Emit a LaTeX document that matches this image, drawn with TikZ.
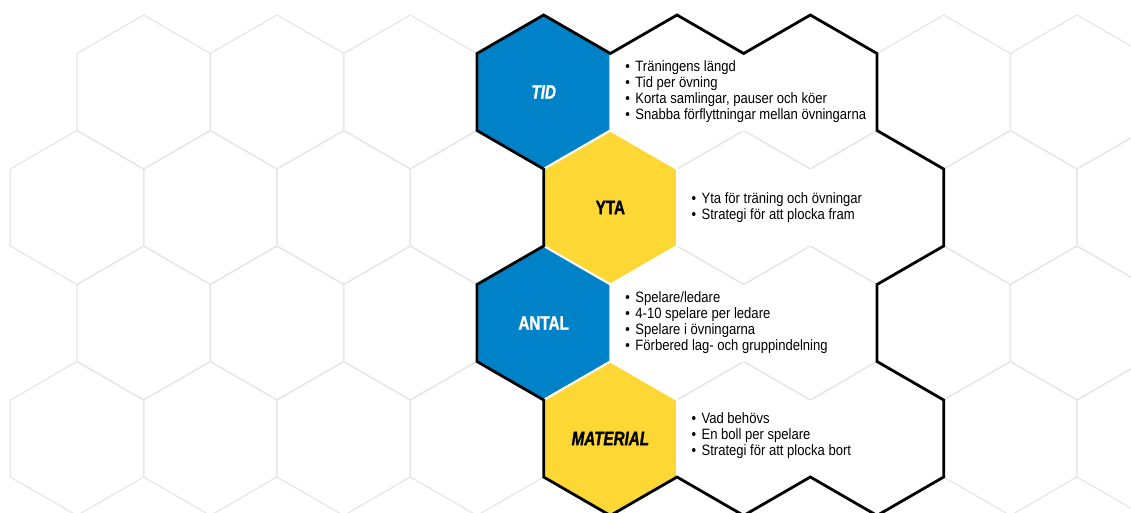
\documentclass[tikz,border=0pt]{standalone}
\usepackage{fontspec}
\setmainfont{Liberation Sans}[FakeStretch=0.87]
\newfontfamily\hexfont{Liberation Sans}[FakeStretch=0.78, FakeBold=1.2]
\usetikzlibrary{positioning}
\definecolor{hexblue}{HTML}{0082C8}
\definecolor{hexyellow}{HTML}{FDD835}
\definecolor{gridgray}{HTML}{E6E6E6}
\newcommand{\hexcell}[2]{(#1,#2-2) -- (#1+1,#2-1) -- (#1+1,#2+1) -- (#1,#2+2) -- (#1-1,#2+1) -- (#1-1,#2-1) -- cycle}
\newcommand{\itm}{\textbullet\hspace{5.5pt}}
\tikzset{gridline/.style = {draw=gridgray, line width=1.2pt, line join=round}}
\tikzset{bluehex/.style = {fill=hexblue, draw=white, line width=2pt}}
\tikzset{yellowhex/.style = {fill=hexyellow, draw=white, line width=2pt}}
\tikzset{outline/.style = {draw=black, line width=2.8pt, line join=miter}}
\tikzset{hexlabel/.style = {font=\hexfont\bfseries\fontsize{19.5}{20}\selectfont, inner sep=0}}
\tikzset{itemlist/.style = {font=\fontsize{15}{16}\selectfont, align=left, inner sep=0, anchor=west}}

\begin{document}
\begin{tikzpicture}[x=66.667pt, y=-38.5pt]
          \useasboundingbox (-10.333pt,15pt) rectangle (1120.667pt,-497pt);
          \clip (-10.333pt,15pt) rectangle (1120.667pt,-497pt);

          \foreach \r in {0,2} \foreach \c in {2,4,...,16} \draw[gridline] \hexcell{\c}{3*\r+2};
          \foreach \r in {1,3} \foreach \c in {1,3,...,17} \draw[gridline] \hexcell{\c}{3*\r+2};

          \fill[white] (9.05,1) rectangle (12.95,3);
          \fill[white] (10.05,4) rectangle (13.95,6);
          \fill[white] (9.05,7) rectangle (12.95,9);
          \fill[white] (10.05,10) rectangle (13.95,12);

          \draw[bluehex] \hexcell{8}{2};
          \draw[yellowhex] \hexcell{9}{5};
          \draw[bluehex] \hexcell{8}{8};
          \draw[yellowhex] \hexcell{9}{11};

          \draw[outline] (7,1) -- (8,0) -- (9,1) -- (10,0) -- (11,1) -- (12,0) -- (13,1) -- (13,3)
            -- (14,4) -- (14,6) -- (13,7) -- (13,9) -- (14,10) -- (14,12) -- (13,13) -- (12,12)
            -- (11,13) -- (10,12) -- (9,13) -- (8,12) -- (8,10) -- (7,9) -- (7,7) -- (8,6)
            -- (8,4) -- (7,3) -- cycle;

          \node[hexlabel, text=white] (tid) at (8,2) {\itshape TID};
          \node[hexlabel] (yta) at (9,5) {YTA};
          \node[hexlabel, text=white] (antal) at (8,8) {ANTAL};
          \node[hexlabel] (material) at (9,11) {\itshape MATERIAL};

          \node[itemlist, right=81.5pt of tid.center] (tidlist) {\itm Träningens längd\\ \itm Tid per övning\\
            \itm Korta samlingar, pauser och köer\\ \itm Snabba förflyttningar mellan övningarna};
          \node[itemlist, right=81pt of yta.center] (ytalist) {\itm Yta för träning och övningar\\
            \itm Strategi för att plocka fram};
          \node[itemlist, right=81.5pt of antal.center] (antallist) {\itm Spelare/ledare\\ \itm 4-10 spelare per ledare\\
            \itm Spelare i övningarna\\ \itm Förbered lag- och gruppindelning};
          \node[itemlist, right=81pt of material.center, yshift=3pt] (materiallist) {\itm Vad behövs\\
            \itm En boll per spelare\\ \itm Strategi för att plocka bort};
        \end{tikzpicture}
\end{document}
